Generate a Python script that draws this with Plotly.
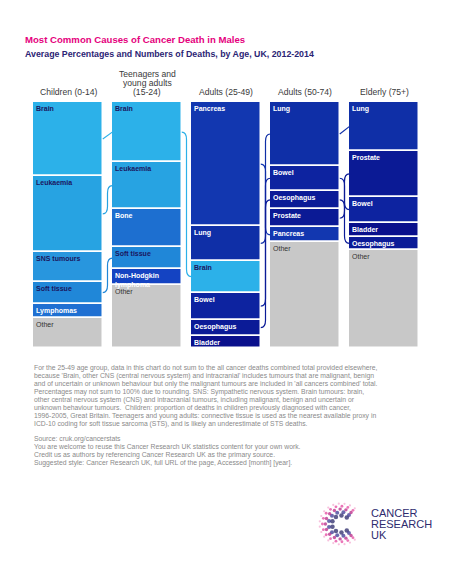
import math
import plotly.graph_objects as go

# ---------------- data ----------------
age_groups = [["Children (0-14)"], ["Teenagers and", "young adults", "(15-24)"],
              ["Adults (25-49)"], ["Adults (50-74)"], ["Elderly (75+)"]]

children_causes = ["Brain", "Leukaemia", "SNS tumours", "Soft tissue", "Lymphomas", "Other"]
children_pct = [30, 31, 12, 9, 6, 12]

tya_causes = ["Brain", "Leukaemia", "Bone", "Soft tissue", "Non-Hodgkin lymphoma", "Other"]
tya_pct = [24.5, 19, 15.5, 9, 6.5, 25.5]

adults2549_causes = ["Pancreas", "Lung", "Brain", "Bowel", "Oesophagus", "Bladder"]
adults2549_pct = [50.5, 14, 13, 11, 6.5, 5]

adults5074_causes = ["Lung", "Bowel", "Oesophagus", "Prostate", "Pancreas", "Other"]
adults5074_pct = [26, 10, 7.5, 7.5, 6, 43]

elderly_causes = ["Lung", "Prostate", "Bowel", "Bladder", "Oesophagus", "Other"]
elderly_pct = [20, 18.5, 10.5, 6, 5, 40]

columns = [
    (children_causes, children_pct),
    (tya_causes, tya_pct),
    (adults2549_causes, adults2549_pct),
    (adults5074_causes, adults5074_pct),
    (elderly_causes, elderly_pct),
]

footnote_lines = [
    "For the 25-49 age group, data in this chart do not sum to the all cancer deaths combined total provided elsewhere,",
    "because 'Brain, other CNS (central nervous system) and intracranial' includes tumours that are malignant, benign",
    "and of uncertain or unknown behaviour but only the malignant tumours are included in 'all cancers combined' total.",
    "Percentages may not sum to 100% due to rounding. SNS: Sympathetic nervous system. Brain tumours: brain,",
    "other central nervous system (CNS) and intracranial tumours, including malignant, benign and uncertain or",
    "unknown behaviour tumours.  Children: proportion of deaths in children previously diagnosed with cancer,",
    "1996-2005, Great Britain. Teenagers and young adults: connective tissue is used as the nearest available proxy in",
    "ICD-10 coding for soft tissue sarcoma (STS), and is likely an underestimate of STS deaths.",
]
source_lines = [
    "Source: cruk.org/cancerstats",
    "You are welcome to reuse this Cancer Research UK statistics content for your own work.",
    "Credit us as authors by referencing Cancer Research UK as the primary source.",
    "Suggested style: Cancer Research UK, full URL of the page, Accessed [month] [year].",
]

# ---------------- styles ----------------
W, H = 450, 582
FONT = "Arial, Liberation Sans, sans-serif"
NAVY_TXT = "#1b1660"
colors = {
    "Brain": "#2cb1e9", "Leukaemia": "#27a3e2", "SNS tumours": "#2896de",
    "Soft tissue": "#2087d8", "Bone": "#1d6fd0", "Lymphomas": "#1f70d2",
    "Non-Hodgkin lymphoma": "#1443c2", "Pancreas": "#1237b0", "Lung": "#0f2fa7",
    "Bowel": "#0d23a0", "Oesophagus": "#0b1b97", "Prostate": "#0b1a95",
    "Bladder": "#0a108c", "Other": "#c8c8c8",
}
dark_text = {"Brain", "Leukaemia", "SNS tumours", "Soft tissue"}
label_override = {"Non-Hodgkin lymphoma": "Non-Hodgkin<br>lymphoma"}

BW = 0.88  # bar width (fraction of column pitch)

fig = go.Figure()
annotations = []
segments = []

for i, (causes, pcts) in enumerate(columns):
    starts, s = [], 0.0
    for p in pcts:
        starts.append(s)
        s += p
    segments.append({c: (st, st + p) for c, st, p in zip(causes, starts, pcts)})
    fig.add_trace(go.Bar(
        x=[i] * len(causes), y=pcts, base=starts, width=BW,
        marker=dict(color=[colors[c] for c in causes],
                    line=dict(color="white", width=1.5)),
        hoverinfo="skip", showlegend=False,
    ))
    for c, st in zip(causes, starts):
        if c == "Other":
            tc = "#333333"
        elif c in dark_text:
            tc = NAVY_TXT
        else:
            tc = "white"
        annotations.append(dict(
            x=i - BW / 2, y=st, xref="x", yref="y", xanchor="left", yanchor="top",
            xshift=1, yshift=-1, showarrow=False, align="left",
            text=("<b>%s</b>" % label_override.get(c, c)) if c != "Other" else "Other",
            font=dict(family=FONT, size=7, color=tc),
        ))
    lines = age_groups[i]
    for k, line in enumerate(lines):
        annotations.append(dict(
            x=i, y=0, xref="x", yref="y", xanchor="center", yanchor="middle",
            yshift=10.5 + 9 * (len(lines) - 1 - k),
            showarrow=False, text=line,
            font=dict(family=FONT, size=8.6, color="#3a3a3a"),
        ))

# connectors between the same cause in adjacent columns
shapes = []
for i in range(len(columns) - 1):
    a, b = segments[i], segments[i + 1]
    x0 = i + BW / 2
    x1 = i + 1 - BW / 2
    xm = x0 + (x1 - x0) * 0.5
    for c in columns[i][0]:
        if c == "Other" or c not in b:
            continue
        y0 = sum(a[c]) / 2
        y1 = sum(b[c]) / 2
        d = y1 - y0
        if abs(d) < 6:
            path = "M %f,%f L %f,%f" % (x0, y0, x1, y1)
        else:
            sgn = 1 if d > 0 else -1
            r = 3.0
            path = ("M %f,%f Q %f,%f %f,%f L %f,%f Q %f,%f %f,%f" %
                    (x0, y0, xm, y0, xm, y0 + sgn * r,
                     xm, y1 - sgn * r, xm, y1, x1, y1))
        shapes.append(dict(type="path", path=path, xref="x", yref="y",
                           line=dict(color=colors[c], width=1.2)))

# ---------------- texts ----------------
def px(x):
    return x / W

def py(y):
    return 1 - y / H

annotations.append(dict(
    x=px(23), y=py(39.5), xref="paper", yref="paper", xanchor="left", yanchor="middle",
    showarrow=False, text="<b>Most Common Causes of Cancer Death in Males</b>",
    font=dict(family=FONT, size=9.6, color="#e5007d")))
annotations.append(dict(
    x=px(23), y=py(53.5), xref="paper", yref="paper", xanchor="left", yanchor="middle",
    showarrow=False,
    text="<b>Average Percentages and Numbers of Deaths, by Age, UK, 2012-2014</b>",
    font=dict(family=FONT, size=8.8, color="#2b2474")))

for k, line in enumerate(footnote_lines):
    annotations.append(dict(
        x=px(32), y=py(368 + 8 * k), xref="paper", yref="paper", xanchor="left",
        yanchor="middle", showarrow=False, text=line,
        font=dict(family=FONT, size=6.8, color="#8a8a8a")))
for k, line in enumerate(source_lines):
    annotations.append(dict(
        x=px(32), y=py(439 + 8 * k), xref="paper", yref="paper", xanchor="left",
        yanchor="middle", showarrow=False, text=line,
        font=dict(family=FONT, size=6.8, color="#8a8a8a")))

# logo text
for word, yy in [("CANCER", 512.5), ("RESEARCH", 523.5), ("UK", 534.5)]:
    annotations.append(dict(
        x=px(369), y=py(yy), xref="paper", yref="paper", xanchor="left", yanchor="middle",
        showarrow=False, text=word, font=dict(family=FONT, size=11, color="#2e2b6e")))

# logo "C" made of dots (decorative)
lx, ly, lc, ls = [], [], [], []
ring_r = [0.45, 0.62, 0.78, 0.93, 1.07]
ring_col = ["#1b1a5e", "#2e2b8a", "#b0187e", "#e23a9a", "#f3a6cf"]
ring_sz = [4.5, 4.0, 3.4, 2.8, 2.2]
for r, col, sz in zip(ring_r, ring_col, ring_sz):
    n = int(r * 16)
    for j in range(n + 1):
        ang = math.radians(50 + (310 - 50) * j / n)
        lx.append(r * math.cos(ang))
        ly.append(r * math.sin(ang))
        lc.append(col)
        ls.append(sz)
fig.add_trace(go.Scatter(x=lx, y=ly, mode="markers", xaxis="x2", yaxis="y2",
                         marker=dict(color=lc, size=ls, line=dict(width=0)),
                         hoverinfo="skip", showlegend=False))

fig.update_layout(
    width=W, height=H, margin=dict(l=0, r=0, t=0, b=0),
    paper_bgcolor="white", plot_bgcolor="white",
    barmode="overlay", bargap=0, hovermode=False,
    xaxis=dict(domain=[33 / W, 419 / W], range=[-BW / 2 - 0.003, 4 + BW / 2 + 0.003],
               visible=False, fixedrange=True),
    yaxis=dict(domain=[1 - 348 / H, 1 - 102 / H], range=[100, 0],
               visible=False, fixedrange=True),
    xaxis2=dict(domain=[318 / W, 364 / W], range=[-1.15, 1.15], visible=False,
                anchor="y2"),
    yaxis2=dict(domain=[1 - 546 / H, 1 - 502 / H], range=[-1.15, 1.15], visible=False,
                anchor="x2"),
    annotations=annotations, shapes=shapes,
)

fig.write_html("out.html", config={"displayModeBar": False},
               post_script="document.body.style.margin='0';document.body.style.padding='0';")
